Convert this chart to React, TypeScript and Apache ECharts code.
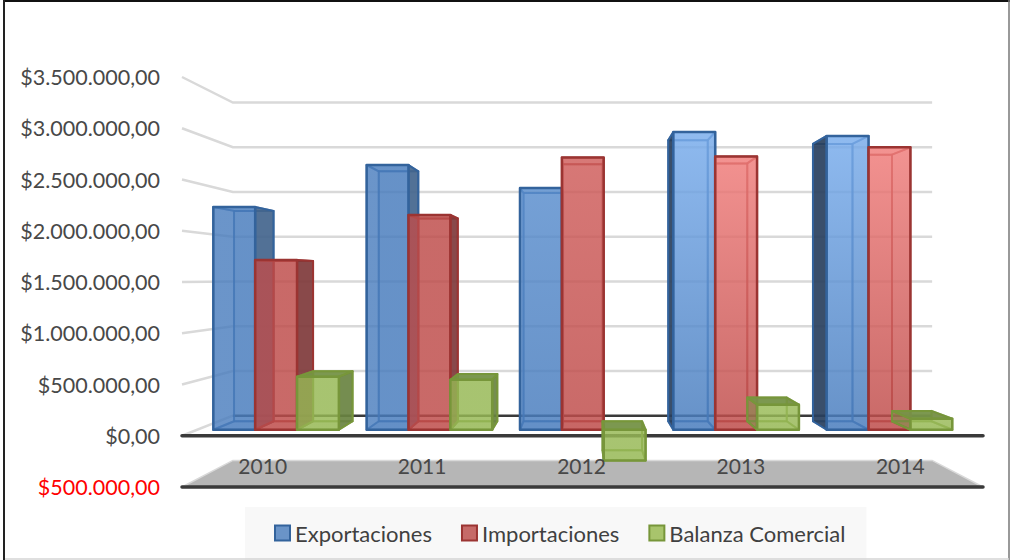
import React, { useEffect, useRef } from "react";
import * as echarts from "echarts";

const categories = ["2010", "2011", "2012", "2013", "2014"];
const exportaciones = [2260000, 2685000, 2452000, 3020000, 2980000];
const importaciones = [1722000, 2178000, 2761000, 2770000, 2864000];
const balanza = [537000, 507000, -311000, 254000, 111000];
const yTicks = [-500000, 0, 500000, 1000000, 1500000, 2000000, 2500000, 3000000, 3500000];
const tickLabels: Record<string, string> = {
  "-500000": "$500.000,00",
  "0": "$0,00",
  "500000": "$500.000,00",
  "1000000": "$1.000.000,00",
  "1500000": "$1.500.000,00",
  "2000000": "$2.000.000,00",
  "2500000": "$2.500.000,00",
  "3000000": "$3.000.000,00",
  "3500000": "$3.500.000,00",
};

// style: lightness of the glossy top of each category's front face
const gloss = [0, 0, 0.35, 1, 1];

const FONT = "Lato";
const S_FRONT = 0.962;
const S_REAR = 0.908;
const S_BACK = 0.873;
const HORIZON_VALUE = 1540000;
const BAR_FRAC = 0.273;
const BAR_SHIFT = 1.3;

type Palette = {
  name: string;
  base: number[];
  bright: number[];
  edge: string;
  side: number[];
  sideFar: number[];
  top: string;
  legend: string;
};

const palettes: Palette[] = [
  {
    name: "Exportaciones",
    base: [72, 124, 189],
    bright: [122, 174, 238],
    edge: "#33639c",
    side: [66, 100, 140],
    sideFar: [40, 62, 92],
    top: "rgba(80,120,170,0.9)",
    legend: "#6a94c8",
  },
  {
    name: "Importaciones",
    base: [190, 76, 74],
    bright: [242, 126, 124],
    edge: "#9b3432",
    side: [125, 56, 58],
    sideFar: [150, 60, 60],
    top: "rgba(170,80,80,0.9)",
    legend: "#c66a68",
  },
  {
    name: "Balanza Comercial",
    base: [150, 184, 84],
    bright: [154, 188, 88],
    edge: "#77963a",
    side: [104, 130, 64],
    sideFar: [120, 130, 70],
    top: "rgba(118,146,72,0.95)",
    legend: "#a8c46c",
  },
];

const rgba = (c: number[], a: number) => `rgba(${c[0]},${c[1]},${c[2]},${a})`;

function vanishing(params: any, api: any) {
  const cs = params.coordSys;
  return { vx: cs.x + cs.width / 2 + 1, vy: api.coord([0, HORIZON_VALUE])[1] };
}

function wallItem(params: any, api: any) {
  const cs = params.coordSys;
  const { vx, vy } = vanishing(params, api);
  const value = api.value(1);
  const y = api.coord([0, value])[1];
  const xl = cs.x - 1;
  const xr = cs.x + cs.width + 3;
  const back = (x: number, yy: number) => [vx + (x - vx) * S_BACK, vy + (yy - vy) * S_BACK];
  const bl = back(xl, y);
  const br = back(xr, y);
  const children: any[] = [];
  if (value < 0) {
    children.push({
      type: "polygon",
      shape: { points: [[xl, y], bl, br, [xr, y]] },
      style: { fill: "#b6b6b6", stroke: "#d9d9d9", lineWidth: 1.5 },
    });
    children.push({
      type: "line",
      shape: { x1: xl, y1: y, x2: xr, y2: y },
      style: { stroke: "#3a3a3a", lineWidth: 3.5, lineCap: "round" },
    });
  } else if (value === 0) {
    children.push({
      type: "line",
      shape: { x1: xl, y1: y, x2: bl[0], y2: bl[1] },
      style: { stroke: "#d9d9d9", lineWidth: 2.5 },
    });
    children.push({
      type: "line",
      shape: { x1: bl[0], y1: bl[1], x2: br[0], y2: br[1] },
      style: { stroke: "#3a3a3a", lineWidth: 2.5 },
    });
    children.push({
      type: "line",
      shape: { x1: xl, y1: y, x2: xr, y2: y },
      style: { stroke: "#3a3a3a", lineWidth: 3.5, lineCap: "round" },
    });
  } else {
    children.push({
      type: "polyline",
      shape: { points: [[xl, y], bl, br] },
      style: { stroke: "#d9d9d9", lineWidth: 2.5, fill: "none" },
    });
  }
  return { type: "group", children };
}

function barItem(index: number) {
  const p = palettes[index];
  return (params: any, api: any) => {
    const { vx, vy } = vanishing(params, api);
    const cat = api.value(0);
    const val = api.value(1);
    const [cx, y0] = api.coord([cat, 0]);
    const y1 = api.coord([cat, val])[1];
    const w = api.size([1, 0])[0] * BAR_FRAC;
    const x0 = cx + BAR_SHIFT - 1.5 * w + index * w;
    const x1 = x0 + w;
    const yt = Math.min(y0, y1);
    const yb = Math.max(y0, y1);
    const pr = (x: number, y: number, s: number) => [vx + (x - vx) * s, vy + (y - vy) * s];
    const ftl = pr(x0, yt, S_FRONT);
    const ftr = pr(x1, yt, S_FRONT);
    const fbl = pr(x0, yb, S_FRONT);
    const fbr = pr(x1, yb, S_FRONT);
    const rtl = pr(x0, yt, S_REAR);
    const rtr = pr(x1, yt, S_REAR);
    const rbl = pr(x0, yb, S_REAR);
    const rbr = pr(x1, yb, S_REAR);
    const face = (pts: number[][], fill: any, opacity = 1, lw = 2) => ({
      type: "polygon",
      shape: { points: pts },
      style: { fill, stroke: p.edge, lineWidth: lw, opacity, lineJoin: "round" },
    });
    const rightVisible = rtr[0] > ftr[0];
    const leftVisible = rtl[0] < ftl[0];
    // the middle bar's left part is hidden behind its neighbour on the right-hand side
    const clampLeft = index === 1 && leftVisible;
    const innerTL = clampLeft ? [ftl[0], rtl[1]] : rtl;
    const innerBL = clampLeft ? [ftl[0], rbl[1]] : rbl;
    const children: any[] = [];
    // inside of the box, seen through the front
    children.push(face([innerTL, rtr, rbr, innerBL], rgba(p.base, 0.25), 0.7));
    children.push(face([fbl, fbr, rbr, innerBL], rgba(p.base, 0.35), 0.7));
    // the top is seen from above only below the horizon
    if (rtl[1] < ftl[1]) {
      children.push(face([ftl, ftr, rtr, rtl], p.top));
    } else {
      children.push(face([ftl, ftr, rtr, innerTL], rgba(p.base, 0.2), 0.7));
    }
    if (rightVisible) {
      children.push(face([ftr, rtr, rbr, fbr], rgba(p.side, 0.9)));
      children.push(face([ftl, rtl, rbl, fbl], rgba(p.base, 0.1), 0.5));
    }
    if (leftVisible) {
      if (!clampLeft) {
        const a = index === 0 ? 0.9 : 0.45;
        children.push(face([ftl, rtl, rbl, fbl], rgba(p.sideFar, a)));
      }
      children.push(face([ftr, rtr, rbr, fbr], rgba(p.sideFar, 0.22), 0.6));
    }
    const g = gloss[cat];
    const mix = p.base.map((c, i) => Math.round(c + (p.bright[i] - c) * g));
    const fill = new echarts.graphic.LinearGradient(0, 0, 0, 1, [
      { offset: 0, color: rgba(mix, 0.8) },
      { offset: 1, color: rgba(p.base, 0.8) },
    ]);
    children.push(face([ftl, ftr, fbr, fbl], fill, 1, 2.5));
    return { type: "group", children };
  };
}

const seriesValues = [exportaciones, importaciones, balanza];

export default function App() {
  const ref = useRef<HTMLDivElement>(null);
  useEffect(() => {
    if (!ref.current) return;
    const chart = echarts.init(ref.current, undefined, { renderer: "svg" });
    chart.setOption({
      animation: false,
      backgroundColor: "#ffffff",
      grid: { left: 183, top: 77, width: 797, height: 410 },
      legend: {
        data: palettes.map((p) => p.name),
        left: 245,
        top: 507,
        padding: [15, 21, 19, 29],
        backgroundColor: "#f8f8f8",
        itemWidth: 15,
        itemHeight: 15,
        itemGap: 29,
        icon: "rect",
        textStyle: { fontFamily: FONT, fontSize: 22, color: "#404040" },
      },
      xAxis: {
        type: "category",
        data: categories,
        z: 10,
        axisLine: { show: false },
        axisTick: { show: false },
        splitLine: { show: false },
        axisLabel: {
          inside: true,
          margin: 11,
          fontFamily: FONT,
          fontSize: 21,
          color: "#484848",
        },
      },
      yAxis: {
        type: "value",
        min: -500000,
        max: 3500000,
        interval: 500000,
        axisLine: { show: false },
        axisTick: { show: false },
        splitLine: { show: false },
        axisLabel: {
          margin: 23,
          fontFamily: FONT,
          fontSize: 21.5,
          padding: [2, 0, 0, 0],
          color: (v: any) => (Number(v) < 0 ? "#ff0000" : "#484848"),
          formatter: (v: number) => tickLabels[String(v)],
        },
      },
      graphic: {
        elements: [
          { type: "line", z: 100, shape: { x1: 3, y1: 1, x2: 1010, y2: 1 }, style: { stroke: "#111111", lineWidth: 2 } },
          { type: "line", z: 100, shape: { x1: 4, y1: 0, x2: 4, y2: 560 }, style: { stroke: "#222222", lineWidth: 2 } },
          { type: "line", z: 100, shape: { x1: 1009, y1: 0, x2: 1009, y2: 560 }, style: { stroke: "#777777", lineWidth: 1.5 } },
          { type: "line", z: 100, shape: { x1: 5, y1: 559, x2: 1009, y2: 559 }, style: { stroke: "#d4d4d4", lineWidth: 1.5 } },
        ],
      },
      series: [
        {
          type: "custom",
          name: "walls",
          z: 1,
          silent: true,
          renderItem: wallItem,
          encode: { x: 0, y: 1 },
          data: yTicks.map((t) => [0, t]),
        },
        ...palettes.map((p, i) => ({
          type: "custom",
          name: p.name,
          z: 2,
          silent: true,
          renderItem: barItem(i),
          encode: { x: 0, y: 1 },
          itemStyle: { color: p.legend, borderColor: p.edge, borderWidth: 2 },
          data: seriesValues[i].map((v, c) => [c, v]),
        })),
      ],
    });
    return () => chart.dispose();
  }, []);
  return <div ref={ref} style={{ position: "fixed", left: 0, top: 0, width: 1010, height: 560 }} />;
}
